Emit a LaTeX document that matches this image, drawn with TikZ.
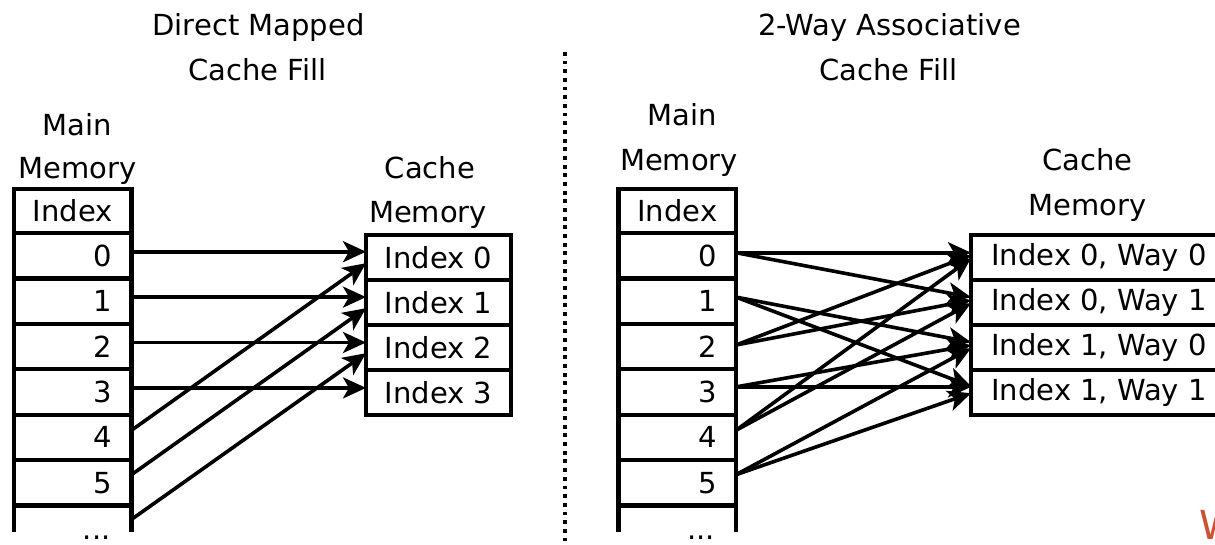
\documentclass[tikz,border=0pt]{standalone}
\usepackage{fontspec}
\setmainfont{DejaVu Sans}
\usetikzlibrary{arrows.meta,calc}
\definecolor{wmred}{RGB}{204,80,50}
\begin{document}
\begin{tikzpicture}[x=1pt,y=-1pt,
  font=\fontsize{29}{35}\selectfont,
  every node/.style={inner sep=0pt, outer sep=0pt},
  border/.style={line width=4.2pt},
  mcell/.style={draw, border, anchor=north west, minimum width=117.5pt, minimum height=45.4pt},
  ccell/.style={draw, border, anchor=north west, minimum width=145pt, minimum height=45pt},
  wcell/.style={draw, border, anchor=north west, minimum width=256pt, minimum height=45pt},
  arr/.style={draw, line width=3.6pt, -{Stealth[length=23pt,width=21pt,inset=6pt]}},
  sepline/.style={line width=3.8pt, dash pattern=on 3.8pt off 4.87pt}]
\fill[white] (0,0) rectangle (1215,544);
\useasboundingbox (0,0) rectangle (1215,544);

% ---------- Left: direct mapped ----------
\node[anchor=base] (t1a) at (258.5,35) {Direct Mapped};
\node[anchor=base] (t1b) at (257.5,80) {Cache Fill};
\node[anchor=base] (mm1a) at (77.5,135) {Main};
\node[anchor=base] (mm1b) at (77.5,178) {Memory};
\node[anchor=base] (cm1a) at (430,178) {Cache};
\node[anchor=base] (cm1b) at (428,222) {Memory};

\node[mcell, minimum height=44.3pt] (LH) at (14,188.7) {Index};
\foreach \i in {0,...,5}{
  \pgfmathsetmacro\yy{233+45.4*\i}
  \node[mcell] (L\i) at (14,\yy) {};
  \node[anchor=east] (Ln\i) at ($(L\i.east)+(-19.5,0)$) {\i};
}
\draw[border] (L5.south west) -- ++(0,26.3);
\draw[border] (L5.south east) -- ++(0,26.3);
\node[anchor=base east] (Ldots) at ($(L5.south east)+(-21,34)$) {...};

\foreach \i in {0,...,3}{
  \pgfmathsetmacro\yy{234.7+45*\i}
  \node[ccell] (C\i) at (366,\yy) {Index \i};
}

\foreach \i in {0,...,3}{
  \draw[arr] ($(L\i.east)+(0,-4)$) coordinate (s) -- (s -| C\i.west);
}
\draw[arr] ($(L4.east)+(0,-7)$) -- ($(C0.west)+(0,6)$);
\draw[arr] ($(L5.east)+(0,-8)$) -- ($(C1.west)+(0,6)$);
\draw[arr] ($(L5.south east)+(0,14)$) -- ($(C2.west)+(0,6)$);

% ---------- separator ----------
\coordinate (sepTop) at (565,52);
\coordinate (sepBot) at (565,548);
\draw[sepline] (sepTop) -- (sepBot);

% ---------- Right: 2-way associative ----------
\node[anchor=base] (t2a) at (889.5,35) {2-Way Associative};
\node[anchor=base] (t2b) at (888.5,80) {Cache Fill};
\node[anchor=base] (mm2a) at (682.5,125) {Main};
\node[anchor=base] (mm2b) at (679,170) {Memory};
\node[anchor=base] (cm2a) at (1087.5,170) {Cache};
\node[anchor=base] (cm2b) at (1087.5,215) {Memory};

\node[mcell, minimum height=44.3pt] (RH) at (618.5,188.7) {Index};
\foreach \i in {0,...,5}{
  \pgfmathsetmacro\yy{233+45.4*\i}
  \node[mcell] (R\i) at (618.5,\yy) {};
  \node[anchor=east] (Rn\i) at ($(R\i.east)+(-19.5,0)$) {\i};
}
\draw[border] (R5.south west) -- ++(0,26.3);
\draw[border] (R5.south east) -- ++(0,26.3);
\node[anchor=base east] (Rdots) at ($(R5.south east)+(-21,34)$) {...};

\node[wcell] (D0) at (971,234.7) {Index 0, Way 0};
\node[wcell] (D1) at (971,279.7) {Index 0, Way 1};
\node[wcell] (D2) at (971,324.7) {Index 1, Way 0};
\node[wcell] (D3) at (971,369.7) {Index 1, Way 1};

% even rows -> index 0
\draw[arr] ($(R0.east)+(0,-3)$) coordinate (s0) -- (s0 -| D0.west);
\draw[arr] ($(R0.east)+(0,-3)$) -- ($(D1.west)+(0,-5)$);
\draw[arr] ($(R2.east)+(0,-1.5)$) -- ($(D0.west)+(0,-2)$);
\draw[arr] ($(R2.east)+(0,-1.5)$) -- ($(D1.west)+(0,-2)$);
\draw[arr] ($(R4.east)+(0,-7)$) -- ($(D0.west)+(0,1)$);
\draw[arr] ($(R4.east)+(0,-7)$) -- ($(D1.west)+(0,1)$);
% odd rows -> index 1
\draw[arr] ($(R1.east)+(0,-4)$) -- ($(D2.west)+(0,-5)$);
\draw[arr] ($(R1.east)+(0,-4)$) -- ($(D3.west)+(0,-6)$);
\draw[arr] ($(R3.east)+(0,-5)$) -- ($(D2.west)+(0,-2)$);
\draw[arr] ($(R3.east)+(0,-5)$) coordinate (s3) -- (s3 -| D3.west);
\draw[arr] ($(R5.east)+(0,-8)$) -- ($(D2.west)+(0,1)$);
\draw[arr] ($(R5.east)+(0,-8)$) -- ($(D3.west)+(0,1)$);

% watermark fragment
\node[anchor=north west, font=\fontsize{40}{48}\selectfont, text=wmred] (wm) at (1199,510) {W};
\end{tikzpicture}
\end{document}
